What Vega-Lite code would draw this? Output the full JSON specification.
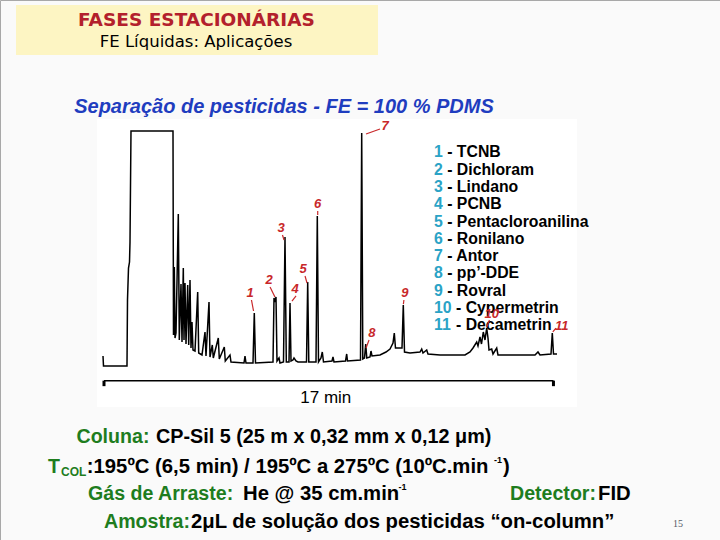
{
  "$schema": "https://vega.github.io/schema/vega-lite/v6.json",
  "width": 720,
  "height": 540,
  "autosize": {"type": "fit", "contains": "padding"},
  "padding": 0,
  "background": "#fafafa",
  "config": {"view": {"stroke": "#a8a8a8"}, "font": "Liberation Sans"},
  "datasets": {
    "headerBox": [{"x": 16, "x2": 378, "y": 5, "y2": 55}],
    "imageBox": [{"x": 97, "x2": 577, "y": 119, "y2": 407}],
    "title": [{"x": 196.5, "y": 20, "text": "FASES ESTACIONÁRIAS"}],
    "subtitle": [{"x": 196, "y": 42, "text": "FE Líquidas: Aplicações"}],
    "heading": [{"x": 284, "y": 107, "text": "Separação de pesticidas - FE = 100 % PDMS"}],
    "legend": [
      {"x": 434, "nx": 447.2, "y": 152.3, "num": "1", "label": "- TCNB"},
      {"x": 434, "nx": 447.2, "y": 169.6, "num": "2", "label": "- Dichloram"},
      {"x": 434, "nx": 447.2, "y": 186.9, "num": "3", "label": "- Lindano"},
      {"x": 434, "nx": 447.2, "y": 204.2, "num": "4", "label": "- PCNB"},
      {"x": 434, "nx": 447.2, "y": 221.5, "num": "5", "label": "- Pentacloroanilina"},
      {"x": 434, "nx": 447.2, "y": 238.8, "num": "6", "label": "- Ronilano"},
      {"x": 434, "nx": 447.2, "y": 256.1, "num": "7", "label": "- Antor"},
      {"x": 434, "nx": 447.2, "y": 273.4, "num": "8", "label": "- pp’-DDE"},
      {"x": 434, "nx": 447.2, "y": 290.7, "num": "9", "label": "- Rovral"},
      {"x": 434, "nx": 456.0, "y": 308.0, "num": "10", "label": "- Cypermetrin"},
      {"x": 434, "nx": 456.0, "y": 325.3, "num": "11", "label": "- Decametrin"}
    ],
    "greenLabels": [
      {"x": 76.5, "y": 437, "text": "Coluna:"},
      {"x": 48, "y": 467, "text": "T"},
      {"x": 88, "y": 494, "text": "Gás de Arraste:"},
      {"x": 510, "y": 494, "text": "Detector:"},
      {"x": 104, "y": 522, "text": "Amostra:"}
    ],
    "greenSub": [{"x": 61, "y": 472, "text": "COL"}],
    "blackLine1": [{"x": 156, "y": 437, "text": "CP-Sil 5 (25 m x 0,32 mm x 0,12 μm)"}],
    "blackValues": [
      {"x": 86.8, "y": 467, "text": ":195ºC (6,5 min) / 195ºC a 275ºC (10ºC.min"},
      {"x": 503, "y": 467, "text": ")"},
      {"x": 243, "y": 494, "text": "He @ 35 cm.min"},
      {"x": 598, "y": 494, "text": "FID"},
      {"x": 191, "y": 522, "text": "2μL de solução dos pesticidas “on-column”"}
    ],
    "blackSup": [
      {"x": 494, "y": 460, "text": "-1"},
      {"x": 398.5, "y": 487, "text": "-1"}
    ],
    "pageNo": [{"x": 678, "y": 524, "text": "15"}],
    "trace": [
      {"t": -0.076, "s": 4.17}, {"t": -0.038, "s": 0}, {"t": 1.667, "s": 0}, {"t": 1.742, "s": 0},
      {"t": 1.780, "s": 27.5}, {"t": 1.856, "s": 40.83}, {"t": 1.932, "s": 43.33}, {"t": 1.970, "s": 51.67},
      {"t": 2.045, "s": 97.92}, {"t": 5.227, "s": 97.92}, {"t": 5.265, "s": 12.92}, {"t": 5.326, "s": 41.25},
      {"t": 5.379, "s": 11.67}, {"t": 5.455, "s": 13.75}, {"t": 5.629, "s": 63.33}, {"t": 5.705, "s": 10.83},
      {"t": 5.833, "s": 34.17}, {"t": 5.909, "s": 10}, {"t": 6.008, "s": 40.83}, {"t": 6.061, "s": 10.83},
      {"t": 6.136, "s": 34.58}, {"t": 6.212, "s": 9.17}, {"t": 6.341, "s": 33.75}, {"t": 6.417, "s": 8.75},
      {"t": 6.515, "s": 35.83}, {"t": 6.591, "s": 7.5}, {"t": 6.667, "s": 18.33}, {"t": 6.742, "s": 6.67},
      {"t": 6.894, "s": 6.25}, {"t": 7.098, "s": 30.83}, {"t": 7.174, "s": 5.42}, {"t": 7.424, "s": 4.58},
      {"t": 7.652, "s": 14.17}, {"t": 7.727, "s": 4.17}, {"t": 7.955, "s": 26.67}, {"t": 8.030, "s": 3.75},
      {"t": 8.205, "s": 8.75}, {"t": 8.280, "s": 3.33}, {"t": 8.659, "s": 11.67}, {"t": 8.735, "s": 2.92},
      {"t": 9.114, "s": 7.92}, {"t": 9.189, "s": 2.08}, {"t": 9.545, "s": 4.58}, {"t": 9.621, "s": 1.67},
      {"t": 10.606, "s": 1.25}, {"t": 10.682, "s": 4.17}, {"t": 10.758, "s": 1.25}, {"t": 11.288, "s": 1.25},
      {"t": 11.386, "s": 22.08}, {"t": 11.477, "s": 1.25}, {"t": 12.803, "s": 1.67}, {"t": 12.879, "s": 28.33},
      {"t": 12.955, "s": 26.67}, {"t": 13.030, "s": 28.75}, {"t": 13.106, "s": 2.08}, {"t": 13.258, "s": 3.33},
      {"t": 13.333, "s": 1.25}, {"t": 13.598, "s": 1.67}, {"t": 13.712, "s": 53.75}, {"t": 13.811, "s": 1.67},
      {"t": 14.015, "s": 1.67}, {"t": 14.091, "s": 26.25}, {"t": 14.167, "s": 2.08}, {"t": 14.318, "s": 2.5},
      {"t": 14.394, "s": 3.33}, {"t": 14.545, "s": 2.08}, {"t": 14.697, "s": 1.67}, {"t": 15.341, "s": 1.67},
      {"t": 15.432, "s": 35}, {"t": 15.515, "s": 1.67}, {"t": 16.061, "s": 1.67}, {"t": 16.159, "s": 62.5},
      {"t": 16.250, "s": 1.67}, {"t": 16.439, "s": 3.33}, {"t": 16.538, "s": 5.83}, {"t": 16.629, "s": 1.67},
      {"t": 17.273, "s": 2.08}, {"t": 17.348, "s": 3.75}, {"t": 17.424, "s": 1.67}, {"t": 18.295, "s": 2.08},
      {"t": 18.386, "s": 5}, {"t": 18.447, "s": 2.08}, {"t": 19.432, "s": 2.5}, {"t": 19.523, "s": 97.08},
      {"t": 19.606, "s": 2.92}, {"t": 19.735, "s": 3.33}, {"t": 19.826, "s": 9.17}, {"t": 19.909, "s": 3.33},
      {"t": 20.152, "s": 3.75}, {"t": 20.227, "s": 6.25}, {"t": 20.303, "s": 4.17}, {"t": 20.909, "s": 4.58},
      {"t": 21.364, "s": 5.83}, {"t": 21.667, "s": 7.08}, {"t": 21.894, "s": 9.58}, {"t": 21.992, "s": 13.75},
      {"t": 22.083, "s": 7.5}, {"t": 22.576, "s": 7.5}, {"t": 22.674, "s": 25.42}, {"t": 22.765, "s": 5.83},
      {"t": 23.182, "s": 5.42}, {"t": 23.939, "s": 5.83}, {"t": 24.068, "s": 7.08}, {"t": 24.167, "s": 5.42},
      {"t": 24.447, "s": 6.67}, {"t": 24.545, "s": 5}, {"t": 25.455, "s": 4.58}, {"t": 27.348, "s": 4.58},
      {"t": 27.727, "s": 5.83}, {"t": 27.955, "s": 7.5}, {"t": 28.235, "s": 10}, {"t": 28.333, "s": 8.33},
      {"t": 28.485, "s": 12.08}, {"t": 28.598, "s": 9.17}, {"t": 28.735, "s": 14.17}, {"t": 28.864, "s": 10.83},
      {"t": 28.992, "s": 15.83}, {"t": 29.091, "s": 11.67}, {"t": 29.167, "s": 6.67}, {"t": 29.371, "s": 7.08},
      {"t": 29.470, "s": 5}, {"t": 29.750, "s": 7.5}, {"t": 29.848, "s": 4.58}, {"t": 32.652, "s": 4.58},
      {"t": 32.879, "s": 5.83}, {"t": 33.030, "s": 4.58}, {"t": 33.864, "s": 5}, {"t": 33.962, "s": 13.75},
      {"t": 34.053, "s": 5}, {"t": 34.318, "s": 5}
    ],
    "timeAxis": [{"t": 0, "t2": 34.05, "s": -6.1}],
    "timeTicks": [{"t": 0, "s": -6.1, "s2": -8.4}, {"t": 34.05, "s": -6.1, "s2": -8.4}],
    "timeLabel": [{"t": 16.8, "s": -13.5, "text": "17 min"}],
    "peakLabels": [
      {"t": 11.06, "s": 30.42, "text": "1"},
      {"t": 12.5, "s": 35.83, "text": "2"},
      {"t": 13.41, "s": 57.5, "text": "3"},
      {"t": 14.47, "s": 32.08, "text": "4"},
      {"t": 15.08, "s": 40.42, "text": "5"},
      {"t": 16.19, "s": 67.5, "text": "6"},
      {"t": 21.29, "s": 100, "text": "7"},
      {"t": 20.30, "s": 13.75, "text": "8"},
      {"t": 22.8, "s": 30.42, "text": "9"},
      {"t": 29.37, "s": 21.67, "text": "10"},
      {"t": 34.67, "s": 16.79, "text": "11"}
    ],
    "leaders": [
      {"t": 11.17, "s": 27.5, "t2": 11.33, "s2": 22.92},
      {"t": 12.58, "s": 32.92, "t2": 12.95, "s2": 28.75},
      {"t": 13.52, "s": 54.58, "t2": 13.64, "s2": 52.5},
      {"t": 14.55, "s": 29.17, "t2": 14.24, "s2": 27.08},
      {"t": 15.23, "s": 37.5, "t2": 15.38, "s2": 34.58},
      {"t": 16.19, "s": 64.58, "t2": 16.19, "s2": 62.92},
      {"t": 19.85, "s": 96.67, "t2": 20.91, "s2": 98.75},
      {"t": 20.08, "s": 10.83, "t2": 19.85, "s2": 7.5},
      {"t": 22.72, "s": 27.5, "t2": 22.68, "s2": 25.8},
      {"t": 29.2, "s": 19.2, "t2": 29.0, "s2": 16.2},
      {"t": 34.24, "s": 15.83, "t2": 34.0, "s2": 14.17}
    ]
  },
  "layer": [
    {
      "encoding": {
        "x": {"field": "x", "type": "quantitative", "scale": {"domain": [0, 720], "nice": false, "zero": false}, "axis": null},
        "y": {"field": "y", "type": "quantitative", "scale": {"domain": [0, 540], "reverse": true, "nice": false, "zero": false}, "axis": null}
      },
      "layer": [
        {
          "data": {"name": "imageBox"},
          "mark": {"type": "rect", "fill": "#ffffff"},
          "encoding": {"x2": {"field": "x2"}, "y2": {"field": "y2"}}
        },
        {
          "data": {"name": "headerBox"},
          "mark": {"type": "rect", "fill": "#fdf5c3"},
          "encoding": {"x2": {"field": "x2"}, "y2": {"field": "y2"}}
        },
        {
          "data": {"name": "title"},
          "mark": {"type": "text", "font": "DejaVu Sans", "fontWeight": "bold", "fontSize": 18.5, "color": "#b3202c", "align": "center", "baseline": "middle"},
          "encoding": {"text": {"field": "text"}}
        },
        {
          "data": {"name": "subtitle"},
          "mark": {"type": "text", "font": "DejaVu Sans", "fontSize": 16.5, "color": "#000000", "align": "center", "baseline": "middle"},
          "encoding": {"text": {"field": "text"}}
        },
        {
          "data": {"name": "heading"},
          "mark": {"type": "text", "fontWeight": "bold", "fontStyle": "italic", "fontSize": 20, "color": "#1f3dbf", "align": "center", "baseline": "middle"},
          "encoding": {"text": {"field": "text"}}
        },
        {
          "data": {"name": "legend"},
          "mark": {"type": "text", "fontWeight": "bold", "fontSize": 15.8, "color": "#000000", "align": "left", "baseline": "middle"},
          "encoding": {"x": {"field": "nx", "type": "quantitative"}, "text": {"field": "label"}}
        },
        {
          "data": {"name": "legend"},
          "mark": {"type": "text", "fontWeight": "bold", "fontSize": 15.8, "color": "#2ba3c6", "align": "left", "baseline": "middle"},
          "encoding": {"text": {"field": "num"}}
        },
        {
          "data": {"name": "greenLabels"},
          "mark": {"type": "text", "fontWeight": "bold", "fontSize": 19.6, "color": "#1e7d1e", "align": "left", "baseline": "middle"},
          "encoding": {"text": {"field": "text"}}
        },
        {
          "data": {"name": "greenSub"},
          "mark": {"type": "text", "fontWeight": "bold", "fontSize": 12, "color": "#1e7d1e", "align": "left", "baseline": "middle"},
          "encoding": {"text": {"field": "text"}}
        },
        {
          "data": {"name": "blackLine1"},
          "mark": {"type": "text", "fontWeight": "bold", "fontSize": 19.8, "color": "#000000", "align": "left", "baseline": "middle"},
          "encoding": {"text": {"field": "text"}}
        },
        {
          "data": {"name": "blackValues"},
          "mark": {"type": "text", "fontWeight": "bold", "fontSize": 20.3, "color": "#000000", "align": "left", "baseline": "middle"},
          "encoding": {"text": {"field": "text"}}
        },
        {
          "data": {"name": "blackSup"},
          "mark": {"type": "text", "fontWeight": "bold", "fontSize": 9, "color": "#000000", "align": "left", "baseline": "middle"},
          "encoding": {"text": {"field": "text"}}
        },
        {
          "data": {"name": "pageNo"},
          "mark": {"type": "text", "font": "Liberation Serif", "fontSize": 10, "color": "#555a66", "align": "center", "baseline": "middle"},
          "encoding": {"text": {"field": "text"}}
        }
      ]
    },
    {
      "encoding": {
        "x": {"field": "t", "type": "quantitative", "scale": {"domain": [-7.879, 46.667], "nice": false, "zero": false}, "axis": null},
        "y": {"field": "s", "type": "quantitative", "scale": {"domain": [-72.5, 152.5], "nice": false, "zero": false}, "axis": null}
      },
      "layer": [
        {
          "data": {"name": "trace"},
          "mark": {"type": "line", "color": "#000000", "strokeWidth": 1.5, "strokeJoin": "miter", "interpolate": "linear"}
        },
        {
          "data": {"name": "timeAxis"},
          "mark": {"type": "rule", "color": "#000000", "strokeWidth": 1.5},
          "encoding": {"x2": {"field": "t2"}}
        },
        {
          "data": {"name": "timeTicks"},
          "mark": {"type": "rule", "color": "#000000", "strokeWidth": 3},
          "encoding": {"y2": {"field": "s2"}}
        },
        {
          "data": {"name": "timeLabel"},
          "mark": {"type": "text", "fontSize": 17, "color": "#000000", "align": "center", "baseline": "middle"},
          "encoding": {"text": {"field": "text"}}
        },
        {
          "data": {"name": "leaders"},
          "mark": {"type": "rule", "color": "#c8282a", "strokeWidth": 1.2},
          "encoding": {"x2": {"field": "t2"}, "y2": {"field": "s2"}}
        },
        {
          "data": {"name": "peakLabels"},
          "mark": {"type": "text", "fontWeight": "bold", "fontStyle": "italic", "fontSize": 13, "color": "#c8282a", "align": "center", "baseline": "middle"},
          "encoding": {"text": {"field": "text"}}
        }
      ]
    }
  ],
  "resolve": {"scale": {"x": "independent", "y": "independent"}}
}
